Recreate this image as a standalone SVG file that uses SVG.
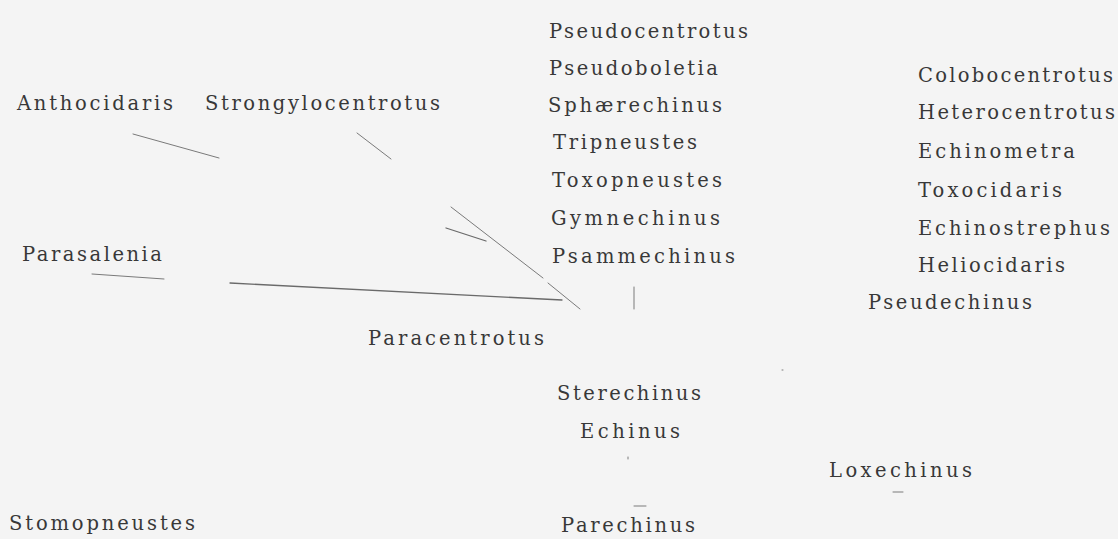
<svg xmlns="http://www.w3.org/2000/svg" width="1118" height="539" viewBox="0 0 1118 539">
<style>
.lbl{font-family:"DejaVu Serif","Liberation Serif",serif;font-size:19.5px;fill:#383838}
.ln{stroke:#7a7a7a;stroke-width:1;fill:none;stroke-linecap:round}
.lnd{stroke:#6a6a6a;stroke-width:1.3;fill:none;stroke-linecap:round}
</style>
<rect width="1118" height="539" fill="#f4f4f4"/>
<g id="connectors">
<line class="ln" x1="133" y1="134" x2="219" y2="158"/>
<line class="ln" x1="357" y1="133" x2="391" y2="159"/>
<line class="ln" x1="451" y1="207" x2="543" y2="278"/>
<line class="ln" x1="548" y1="283" x2="580" y2="309"/>
<line class="lnd" x1="446" y1="228" x2="486" y2="241"/>
<line class="ln" x1="92" y1="274" x2="164" y2="279"/>
<line class="lnd" x1="230" y1="283" x2="562" y2="300"/>
<line class="ln" x1="634" y1="287" x2="634" y2="309"/>
<line class="ln" x1="893" y1="492" x2="903" y2="492"/>
<line class="ln" x1="634" y1="506" x2="646" y2="506"/>
<line class="ln" x1="628" y1="457" x2="628" y2="459"/>
<line class="ln" x1="782" y1="370" x2="783" y2="370"/>
</g>
<g id="n-anthocidaris"><text class="lbl" x="17" y="110" textLength="156" lengthAdjust="spacing">Anthocidaris</text></g>
<g id="n-strongylocentrotus"><text class="lbl" x="205" y="110" textLength="235" lengthAdjust="spacing">Strongylocentrotus</text></g>
<g id="n-parasalenia"><text class="lbl" x="22" y="261" textLength="140" lengthAdjust="spacing">Parasalenia</text></g>
<g id="n-paracentrotus"><text class="lbl" x="368" y="345" textLength="176" lengthAdjust="spacing">Paracentrotus</text></g>
<g id="n-stomopneustes"><text class="lbl" x="9" y="530" textLength="186" lengthAdjust="spacing">Stomopneustes</text></g>
<g id="n-pseudocentrotus"><text class="lbl" x="549" y="38" textLength="199" lengthAdjust="spacing">Pseudocentrotus</text></g>
<g id="n-pseudoboletia"><text class="lbl" x="549" y="75" textLength="169" lengthAdjust="spacing">Pseudoboletia</text></g>
<g id="n-sphaerechinus"><text class="lbl" x="548" y="112" textLength="174" lengthAdjust="spacing">Sphærechinus</text></g>
<g id="n-tripneustes"><text class="lbl" x="553" y="149" textLength="144" lengthAdjust="spacing">Tripneustes</text></g>
<g id="n-toxopneustes"><text class="lbl" x="552" y="187" textLength="170" lengthAdjust="spacing">Toxopneustes</text></g>
<g id="n-gymnechinus"><text class="lbl" x="551" y="225" textLength="169" lengthAdjust="spacing">Gymnechinus</text></g>
<g id="n-psammechinus"><text class="lbl" x="552" y="263" textLength="183" lengthAdjust="spacing">Psammechinus</text></g>
<g id="n-colobocentrotus"><text class="lbl" x="918" y="82" textLength="195" lengthAdjust="spacing">Colobocentrotus</text></g>
<g id="n-heterocentrotus"><text class="lbl" x="918" y="119" textLength="197" lengthAdjust="spacing">Heterocentrotus</text></g>
<g id="n-echinometra"><text class="lbl" x="918" y="158" textLength="157" lengthAdjust="spacing">Echinometra</text></g>
<g id="n-toxocidaris"><text class="lbl" x="918" y="197" textLength="144" lengthAdjust="spacing">Toxocidaris</text></g>
<g id="n-echinostrephus"><text class="lbl" x="918" y="235" textLength="192" lengthAdjust="spacing">Echinostrephus</text></g>
<g id="n-heliocidaris"><text class="lbl" x="918" y="272" textLength="147" lengthAdjust="spacing">Heliocidaris</text></g>
<g id="n-pseudechinus"><text class="lbl" x="868" y="309" textLength="164" lengthAdjust="spacing">Pseudechinus</text></g>
<g id="n-sterechinus"><text class="lbl" x="557" y="400" textLength="144" lengthAdjust="spacing">Sterechinus</text></g>
<g id="n-echinus"><text class="lbl" x="580" y="438" textLength="100" lengthAdjust="spacing">Echinus</text></g>
<g id="n-loxechinus"><text class="lbl" x="829" y="477" textLength="143" lengthAdjust="spacing">Loxechinus</text></g>
<g id="n-parechinus"><text class="lbl" x="561" y="532" textLength="134" lengthAdjust="spacing">Parechinus</text></g>
</svg>
